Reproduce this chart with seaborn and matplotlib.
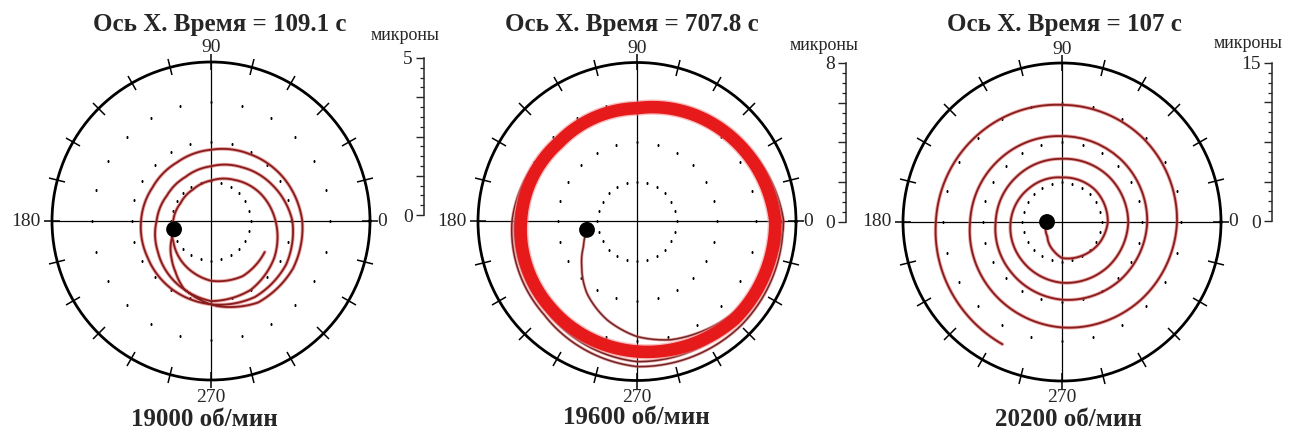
import numpy as np
import pandas as pd
import matplotlib
matplotlib.use("Agg")
import matplotlib.pyplot as plt
import seaborn as sns

sns.set_style("white")
plt.rcParams["font.family"] = ["Liberation Serif", "DejaVu Serif"]

# ---------------------------------------------------------------- text
titles = ["Ось X. Время = 109.1 с", "Ось X. Время = 707.8 с", "Ось X. Время = 107 с"]
speeds = ["19000 об/мин", "19600 об/мин", "20200 об/мин"]
unit_label = "микроны"
angle_ticks = [0, 90, 180, 270]
angle_labels = ["0", "90", "180", "270"]
r_max = [5, 8, 15]

# ---------------------------------------------------------------- orbits
# shaft centre trajectory: polar angle (deg, unwrapped) and radius (microns)
orbit1_deg = [192.7, 204, 223.5, 235, 248, 260, 274, 300, 330, 360, 390, 420,
              450, 480, 510, 540, 570, 600, 630, 660, 690, 720, 750, 780,
              810, 840, 870, 900, 930, 960, 990, 1020, 1050, 1080, 1110, 1140,
              1170, 1200, 1230, 1260, 1290, 1320, 1350, 1380, 1410]
orbit1_um = [1.19, 1.35, 1.71, 1.95, 2.29, 2.47, 2.68, 2.96, 2.98, 2.87, 2.66, 2.43,
             2.24, 2.13, 2.12, 2.20, 2.30, 2.47, 2.62, 2.76, 2.73, 2.56, 2.24, 1.95,
             1.72, 1.60, 1.60, 1.71, 1.93, 2.23, 2.52, 2.50, 2.30, 2.03, 1.77, 1.49,
             1.27, 1.14, 1.11, 1.19, 1.36, 1.62, 1.88, 2.00, 1.95]

# 19600 rpm: run-up from the start point, then the settled orbit
orbit2_deg = [189.5, 205, 219, 235, 253, 270, 286, 298, 311, 326.5, 337, 347,
              360, 405, 450, 495, 540, 585, 630, 675, 720, 765, 810, 855,
              900, 945, 990, 1035, 1080]
orbit2_um = [2.55, 2.97, 3.58, 4.40, 5.17, 5.79, 6.19, 6.38, 6.60, 6.84, 7.11, 7.22,
             7.38, 6.50, 5.80, 5.70, 6.29, 6.62, 7.30, 7.40, 7.35, 6.42, 5.72, 5.62,
             6.15, 6.40, 7.05, 7.10, 7.00]
steady2_deg = [0, 45, 90, 135, 180, 225, 270, 315, 360]
steady2_um = [6.96, 6.32, 5.70, 5.59, 5.84, 6.15, 6.54, 6.95, 6.96]

orbit3_deg = [180, 225, 255, 270, 300, 330, 360, 405, 450, 495, 540, 585, 630,
              675, 720, 765, 810, 855, 900, 945, 990, 1035, 1080, 1125, 1170,
              1215, 1260, 1305, 1350, 1395, 1440, 1485, 1530, 1575, 1620, 1655, 1684]
orbit3_um = [1.41, 1.95, 2.87, 3.40, 3.69, 4.04, 4.32, 4.35, 4.20, 4.45, 4.85, 5.25, 5.73,
             6.05, 6.25, 6.15, 5.96, 6.05, 6.26, 6.75, 7.33, 7.75, 8.04, 8.10, 8.10,
             8.35, 8.67, 9.30, 9.95, 10.45, 10.85, 11.00, 11.05, 11.45, 11.90, 12.40, 12.83]

# ---------------------------------------------------------------- layout (pixels)
W, H = 1292, 432
R_PX = 159
centers = [(211, 221), (637, 221.5), (1062, 222)]
bars = [(424, 58, 215), (846, 63, 222), (1272, 63, 221)]      # x, top, bottom
unit_pos = [(405, 35), (824, 45), (1248, 43)]
title_pos = [(220, 25), (632, 25), (1064, 25)]
speed_pos = [(204, 420), (636, 418), (1068, 420)]
# offsets of the angle labels from the plot centre (pixels, x right / y down)
angle_label_offsets = [(171, 0), (0, -173), (-185, 0), (0, 176)]

DARK = "#861c1c"
HALO = "#dc5a5a"
BAND = "#e6191b"

fig = plt.figure(figsize=(W / 100, H / 100), dpi=100, facecolor="white")


def draw_curve(ax, deg, um, color, lw, halo=None, halo_lw=None, z=3):
    df = pd.DataFrame({"theta": np.radians(deg), "r": um})
    if halo is not None:
        sns.lineplot(data=df, x="theta", y="r", sort=False, estimator=None,
                     ax=ax, color=halo, lw=halo_lw, alpha=0.55, zorder=z)
    sns.lineplot(data=df, x="theta", y="r", sort=False, estimator=None,
                 ax=ax, color=color, lw=lw, zorder=z + 0.1)


def polar_panel(i):
    cx, cy = centers[i]
    rm = r_max[i]
    ax = fig.add_axes([(cx - R_PX) / W, (H - cy - R_PX) / H, 2 * R_PX / W, 2 * R_PX / H],
                      projection="polar")
    ax.set_facecolor("none")
    ax.set_ylim(0, rm)
    ax.set_yticks([])
    ax.set_xticks(np.radians(angle_ticks))
    ax.set_xticks(np.radians(np.arange(0, 360, 15)), minor=True)
    # tick marks crossing the outer rim; the angle labels are placed separately
    ax.tick_params(axis="x", which="both", bottom=False, top=True,
                   labelbottom=False, labeltop=False,
                   direction="inout", length=6, width=1.1, color="black")
    ax.xaxis.grid(True, which="major", color="black", lw=0.9)
    ax.xaxis.grid(False, which="minor")
    ax.yaxis.grid(False)
    ax.spines["polar"].set_linewidth(2.0)
    ax.spines["polar"].set_color("black")
    # dotted reference rings
    th = np.radians(np.arange(0, 360, 15))
    for k in (1, 2, 3):
        ax.plot(th, np.full_like(th, rm * k / 4), ls="none", marker="s", ms=1.6,
                mec="none", color="black", zorder=2)
    for lab, (dx, dy) in zip(angle_labels, angle_label_offsets):
        fig.text((cx + dx) / W, 1 - (cy + dy) / H, lab, ha="center", va="center",
                 fontsize=14)
    return ax


axes = [polar_panel(i) for i in range(3)]

draw_curve(axes[0], orbit1_deg, orbit1_um, DARK, 1.3, HALO, 2.6)
draw_curve(axes[1], orbit2_deg, orbit2_um, "#6e2626", 1.1, HALO, 2.2, z=3)
draw_curve(axes[1], steady2_deg, steady2_um, BAND, 9.0, "#f28a8a", 11.0, z=4)
draw_curve(axes[2], orbit3_deg, orbit3_um, DARK, 1.3, HALO, 2.6)

starts = [(orbit1_deg[0], orbit1_um[0]), (orbit2_deg[0], orbit2_um[0]),
          (orbit3_deg[0], orbit3_um[0])]
for ax, (d, r), rm in zip(axes, starts, r_max):
    sns.scatterplot(x=[np.radians(d)], y=[r], ax=ax, s=130, color="black",
                    edgecolor="none", zorder=6)
    ax.set_xlabel("")
    ax.set_ylabel("")
    ax.set_ylim(0, rm)
    for ln in ax.lines:
        ln.get_path()._interpolation_steps = 24

# ---------------------------------------------------------------- scale bars
for i, (bx_px, top, bot) in enumerate(bars):
    rm = r_max[i]
    bx = fig.add_axes([bx_px / W, (H - bot) / H, 0.0004, (bot - top) / H])
    bx.set_facecolor("none")
    for s in ("top", "right", "bottom"):
        bx.spines[s].set_visible(False)
    bx.spines["left"].set_linewidth(1.1)
    bx.set_xticks([])
    bx.set_ylim(0, rm)
    bx.set_yticks(np.linspace(0, rm, 5))
    bx.set_yticklabels([str(0), "", "", "", str(rm)])
    bx.set_yticks(np.linspace(0, rm, 17), minor=True)
    bx.tick_params(axis="y", which="both", left=True, right=False, direction="out")
    bx.tick_params(axis="y", which="major", length=6, width=1.0, pad=2, labelsize=14)
    bx.tick_params(axis="y", which="minor", length=3.2, width=0.9)
    ux, uy = unit_pos[i]
    fig.text(ux / W, 1 - uy / H, unit_label, ha="center", va="center", fontsize=13)

# ---------------------------------------------------------------- titles
for i in range(3):
    tx, ty = title_pos[i]
    fig.text(tx / W, 1 - ty / H, titles[i], ha="center", va="center",
             fontsize=18, fontweight="bold")
    sx, sy = speed_pos[i]
    fig.text(sx / W, 1 - sy / H, speeds[i], ha="center", va="center",
             fontsize=18, fontweight="bold")

fig.savefig("out.png", dpi=100, facecolor="white")
